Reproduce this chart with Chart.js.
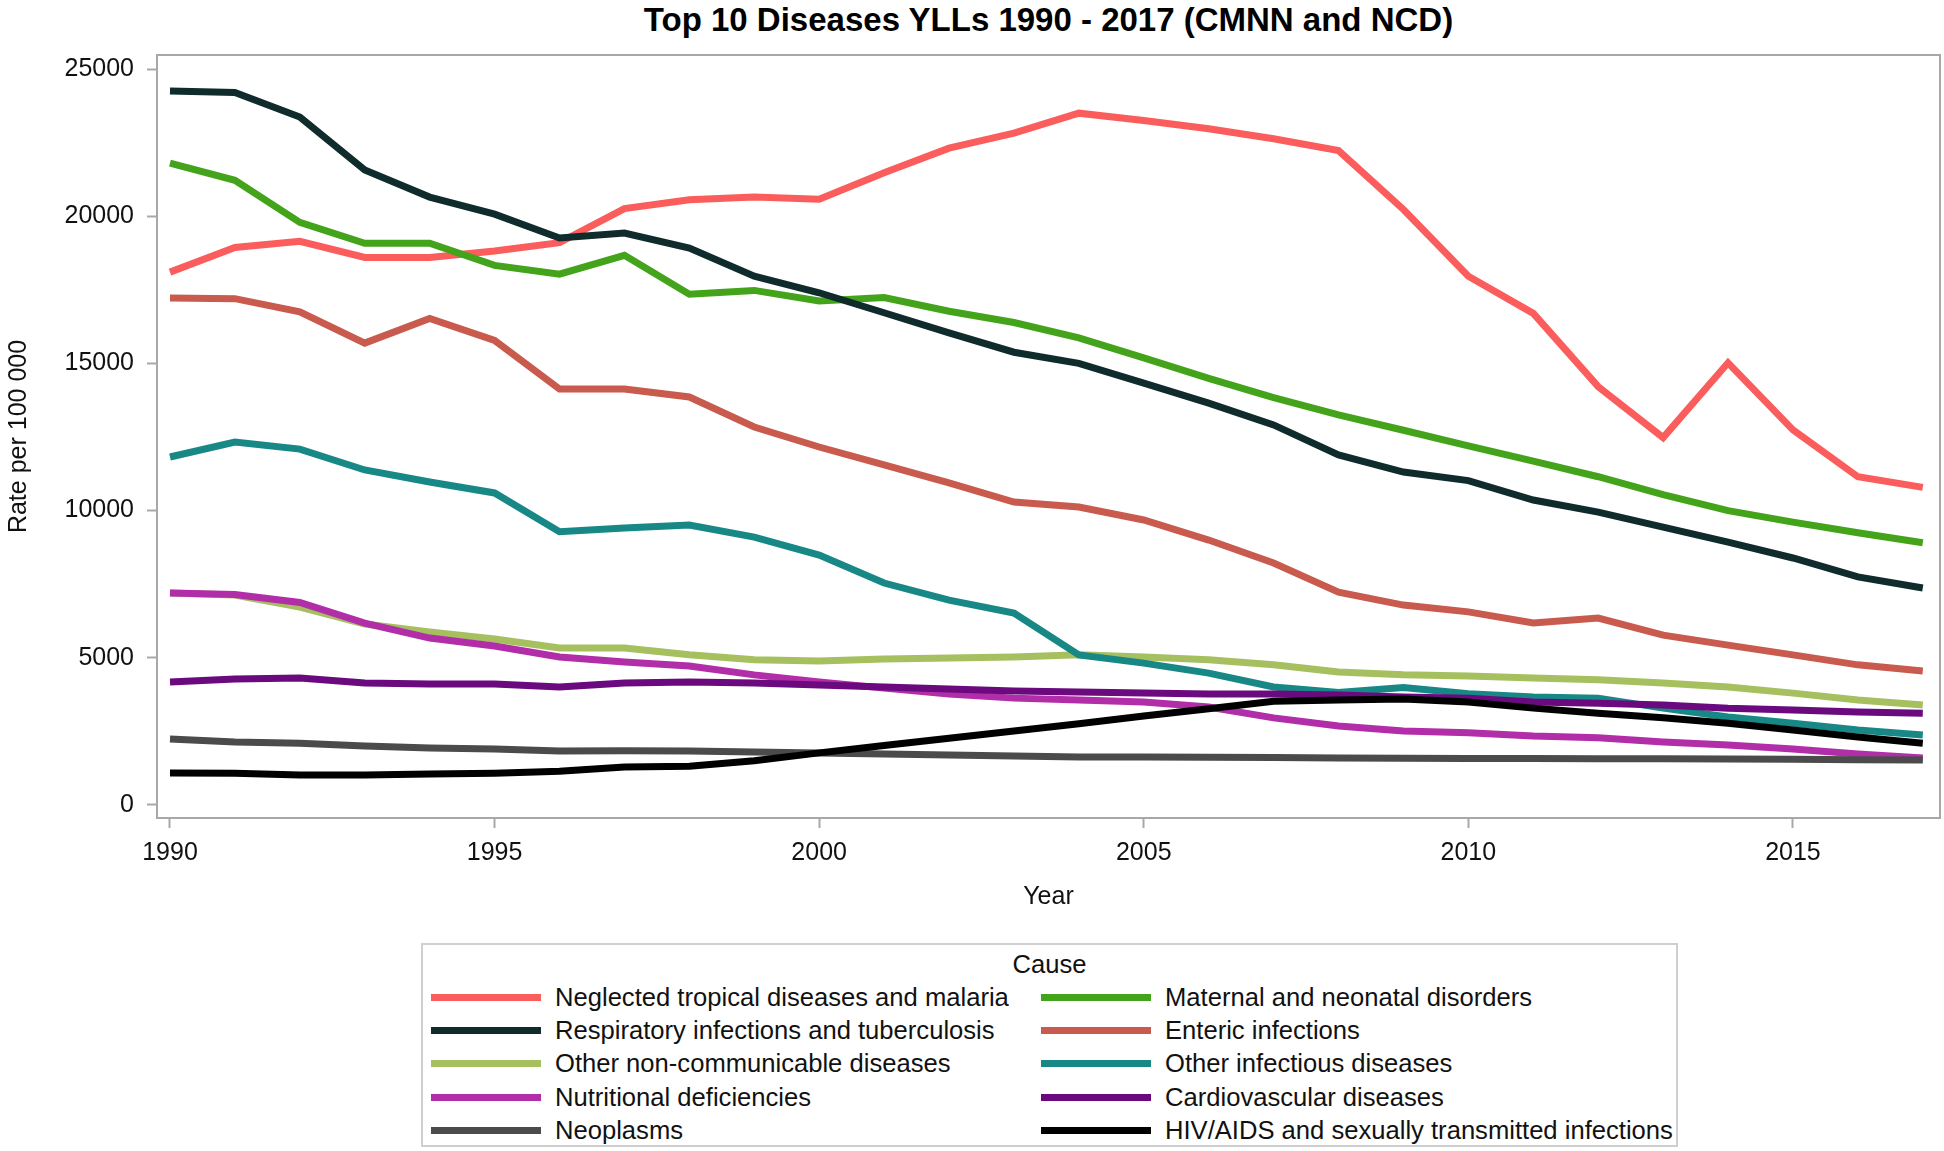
<!DOCTYPE html>
<html>
<head>
<meta charset="utf-8">
<script src="https://cdn.jsdelivr.net/npm/chart.js@4"></script>
<style>
  html, body { margin: 0; padding: 0; background: #fff; }
  body { width: 1944px; height: 1151px; position: relative; overflow: hidden;
         font-family: "Liberation Sans", Arial, sans-serif; color: #111; }
  #title { position: absolute; left: 157px; width: 1783px; top: 0; line-height: 40px;
           text-align: center; font-weight: bold; font-size: 33px; color: #000; }
  #wrap { position: absolute; left: 0; top: 0; width: 1944px; height: 915px; }
  #legend { position: absolute; left: 421px; top: 943px; width: 1253px; height: 200px;
            border: 2px solid #cfcfcf; font-size: 25.6px; }
  #legend .cap { position: absolute; left: 0; width: 100%; top: 2px; line-height: 34px; text-align: center; }
  #legend .item { position: absolute; height: 33px; line-height: 33px; white-space: nowrap; }
  #legend .swatch { position: absolute; left: 0; top: 13px; width: 110px; height: 7px; }
  #legend .label { position: absolute; left: 124px; top: 0; }
</style>
</head>
<body>
<div id="title">Top 10 Diseases YLLs 1990 - 2017 (CMNN and NCD)</div>
<div id="wrap"><canvas id="yllChart" width="1944" height="915"></canvas></div>
<div id="legend"></div>

<script>
const years = [1990, 1991, 1992, 1993, 1994, 1995, 1996, 1997, 1998, 1999,
  2000, 2001, 2002, 2003, 2004, 2005, 2006, 2007, 2008, 2009,
  2010, 2011, 2012, 2013, 2014, 2015, 2016, 2017];

const ntdMalaria = [18100, 18940, 19150, 18600, 18600, 18820, 19100, 20260, 20560, 20650,
  20580, 21480, 22310, 22820, 23500, 23250, 22970, 22630, 22230, 20230,
  17960, 16700, 14210, 12480, 15020, 12740, 11150, 10790];
const maternal = [21800, 21220, 19790, 19080, 19080, 18330, 18030, 18670, 17350, 17480,
  17120, 17240, 16770, 16390, 15870, 15190, 14490, 13840, 13250, 12730,
  12200, 11680, 11150, 10540, 10000, 9610, 9250, 8910];
const respiratory = [24250, 24200, 23370, 21570, 20650, 20070, 19260, 19430, 18920, 17960,
  17400, 16720, 16040, 15380, 15000, 14330, 13650, 12910, 11890, 11310,
  11020, 10360, 9950, 9440, 8930, 8390, 7750, 7370];
const enteric = [17220, 17200, 16750, 15690, 16530, 15780, 14130, 14130, 13860, 12840,
  12160, 11550, 10940, 10290, 10120, 9680, 9000, 8220, 7230, 6790,
  6560, 6180, 6350, 5770, 5430, 5100, 4760, 4550];
const otherNcd = [7200, 7130, 6720, 6150, 5880, 5640, 5330, 5330, 5100, 4930,
  4890, 4960, 4990, 5030, 5100, 5030, 4930, 4760, 4520, 4420,
  4380, 4310, 4250, 4140, 4010, 3800, 3570, 3400];
const otherInfectious = [11820, 12330, 12090, 11380, 10970, 10600, 9280, 9410, 9510, 9100,
  8490, 7540, 6960, 6520, 5100, 4820, 4480, 4010, 3820, 3990,
  3780, 3670, 3630, 3290, 2990, 2780, 2550, 2380];
const nutritional = [7200, 7150, 6880, 6180, 5670, 5400, 5030, 4860, 4720, 4420,
  4180, 3970, 3770, 3630, 3570, 3500, 3330, 2960, 2680, 2510,
  2450, 2340, 2280, 2140, 2040, 1900, 1730, 1600];
const cardiovascular = [4180, 4280, 4310, 4140, 4110, 4110, 4010, 4140, 4180, 4140,
  4080, 4010, 3940, 3870, 3840, 3800, 3770, 3770, 3740, 3670,
  3630, 3500, 3460, 3400, 3290, 3230, 3160, 3120];
const neoplasms = [2240, 2140, 2100, 2000, 1940, 1900, 1830, 1840, 1830, 1800,
  1770, 1730, 1700, 1660, 1630, 1630, 1620, 1610, 1600, 1590,
  1580, 1580, 1570, 1570, 1560, 1550, 1540, 1530];
const hivStd = [1090, 1080, 1020, 1020, 1050, 1080, 1150, 1290, 1320, 1500,
  1770, 2020, 2270, 2510, 2760, 3020, 3270, 3520, 3570, 3600,
  3500, 3290, 3120, 2960, 2780, 2550, 2310, 2100];

// legend order (row by row, two columns)
const causes = [
  'Neglected tropical diseases and malaria', 'Maternal and neonatal disorders',
  'Respiratory infections and tuberculosis', 'Enteric infections',
  'Other non-communicable diseases', 'Other infectious diseases',
  'Nutritional deficiencies', 'Cardiovascular diseases',
  'Neoplasms', 'HIV/AIDS and sexually transmitted infections'
];
const seriesValues = [ntdMalaria, maternal, respiratory, enteric, otherNcd,
  otherInfectious, nutritional, cardiovascular, neoplasms, hivStd];
const colors = ['#fb5c5c', '#43a31a', '#0f2b2b', '#c95a4e', '#a6c060',
  '#178886', '#b22ea8', '#6a0a7e', '#4b4b4b', '#000000'];

const yTicks = [0, 5000, 10000, 15000, 20000, 25000];
const xTicks = [1990, 1995, 2000, 2005, 2010, 2015];

Chart.defaults.font.family = '"Liberation Sans", Arial, sans-serif';
Chart.defaults.color = '#111';

// grey box round the plot area
const frame = {
  id: 'frame',
  beforeDatasetsDraw(chart) {
    const { ctx, chartArea: a } = chart;
    ctx.save();
    ctx.strokeStyle = '#a8a8a8';
    ctx.lineWidth = 2;
    ctx.strokeRect(a.left, a.top, a.right - a.left, a.bottom - a.top);
    ctx.restore();
  }
};

const datasets = causes.map((name, i) => ({
  label: name,
  data: years.map((yr, j) => ({ x: yr, y: seriesValues[i][j] })),
  borderColor: colors[i],
  backgroundColor: colors[i],
  borderWidth: 7,
  pointRadius: 0,
  tension: 0,
  order: causes.length - i   // later causes drawn on top
}));

const chart = new Chart(document.getElementById('yllChart'), {
  type: 'line',
  data: { datasets },
  options: {
    responsive: false,
    animation: false,
    devicePixelRatio: 1,
    layout: { padding: { top: 55, right: 4, left: 0, bottom: 0 } },
    plugins: {
      legend: { display: false },
      tooltip: { enabled: false }
    },
    scales: {
      x: {
        type: 'linear',
        min: 1989.8,
        max: 2017.265,
        afterBuildTicks: axis => { axis.ticks = xTicks.map(v => ({ value: v })); },
        afterFit: axis => { axis.height = 97; },
        ticks: { font: { size: 25 }, padding: 10, maxRotation: 0, callback: v => String(v) },
        grid: { drawOnChartArea: false, drawTicks: true, tickLength: 10, tickColor: '#a8a8a8', tickWidth: 2 },
        border: { display: false },
        title: { display: true, text: 'Year', font: { size: 25 }, padding: { top: 0, bottom: 3 } }
      },
      y: {
        min: -442,
        max: 25476,
        afterBuildTicks: axis => { axis.ticks = yTicks.map(v => ({ value: v })); },
        afterFit: axis => { axis.width = 157; },
        ticks: { font: { size: 25 }, padding: 13, callback: v => String(v) },
        grid: { drawOnChartArea: false, drawTicks: true, tickLength: 10, tickColor: '#a8a8a8', tickWidth: 2 },
        border: { display: false },
        title: { display: true, text: 'Rate per 100 000', font: { size: 25 }, padding: { top: 4, bottom: 0 } }
      }
    }
  },
  plugins: [frame]
});

// legend box built from the chart datasets
const legend = document.getElementById('legend');
legend.innerHTML = '<div class="cap">Cause</div>';
chart.data.datasets.forEach((ds, i) => {
  const col = i % 2, row = Math.floor(i / 2);
  const item = document.createElement('div');
  item.className = 'item';
  item.style.left = (col === 0 ? 8 : 618) + 'px';
  item.style.top = (36 + row * 33.2) + 'px';
  item.innerHTML = '<span class="swatch" style="background:' + ds.borderColor + '"></span>' +
    '<span class="label">' + ds.label + '</span>';
  legend.appendChild(item);
});
</script>
</body>
</html>
